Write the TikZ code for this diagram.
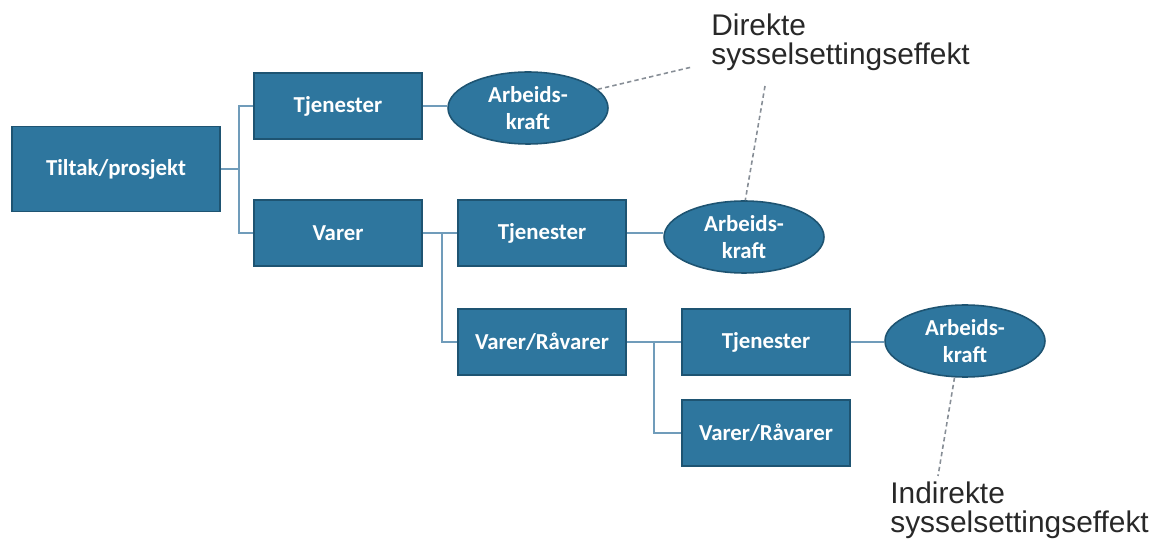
\documentclass[tikz,border=0pt]{standalone}
\usepackage{fontspec}
\setmainfont{Liberation Sans}
\newfontfamily\boxfont{Carlito}
\usetikzlibrary{shapes.geometric}
\definecolor{boxblue}{RGB}{46,118,158}
\definecolor{boxedge}{RGB}{30,84,114}
\definecolor{linkblue}{RGB}{112,156,186}
\definecolor{effgray}{RGB}{135,142,150}
\definecolor{labelgray}{RGB}{40,40,40}
\begin{document}
\begin{tikzpicture}[x=0.02cm,y=-0.02cm,
box/.style={draw=boxedge,line width=0.9pt,fill=boxblue,text=white,font=\boxfont\bfseries\fontsize{13}{14}\selectfont,minimum width=3.36cm,minimum height=1.32cm,inner sep=0pt},
ell/.style={ellipse,draw=boxedge,line width=0.9pt,fill=boxblue,text=white,font=\boxfont\bfseries\fontsize{13}{15}\selectfont,align=center,inner sep=0pt,minimum width=3.2cm,minimum height=1.44cm},
link/.style={draw=linkblue,line width=1.1pt},
effect/.style={draw=effgray,line width=0.9pt,dash pattern=on 2.5pt off 1.8pt},
effectlabel/.style={font=\fontsize{17}{16}\selectfont,text=labelgray,align=left,inner sep=0pt,anchor=north west}]
\useasboundingbox (0,0) rectangle (1150,540);
\node[box,minimum width=4.16cm,minimum height=1.7cm] (tiltak) at (116,169) {Tiltak/prosjekt};
\node[box] (tj1) at (338,106) {Tjenester};
\node[box] (varer1) at (338,233) {Varer};
\node[ell] (ark1) at (528,108) {Arbeids-\\kraft};
\node[box] (tj2) at (542,233) {Tjenester};
\node[ell] (ark2) at (744,237) {Arbeids-\\kraft};
\node[box] (rv1) at (542,342) {Varer/Råvarer};
\node[box] (tj3) at (766,342) {Tjenester};
\node[ell] (ark3) at (965,341) {Arbeids-\\kraft};
\node[box] (rv2) at (766,433) {Varer/Råvarer};
\node[effectlabel] (direkte) at (711,14) {Direkte\\sysselsettingseffekt};
\node[effectlabel] (indirekte) at (890,482) {Indirekte\\sysselsettingseffekt};
\coordinate (dirleft) at (692,67);
\coordinate (dirfoot) at (765,86);
\coordinate (indtop) at (938,476);
\draw[link] (tiltak.east) -- ++(18,0) coordinate (split1);
\draw[link] (tj1.west) -| (split1) |- (varer1.west);
\draw[link] (varer1.east) -- (tj2.west) (varer1.east) ++(19,0) |- (rv1.west);
\draw[link] (rv1.east) -- (tj3.west) (rv1.east) ++(27,0) |- (rv2.west);
\draw[link] (tj1.east) -- (tj1.east -| ark1.west);
\draw[link] (tj2.east) -- (tj2.east -| ark2.west);
\draw[link] (tj3.east) -- (tj3.east -| ark3.west);
\draw[effect] (ark1.15) -- (dirleft);
\draw[effect] (dirfoot) -- (ark2.88);
\draw[effect] (ark3.254) -- (indtop);
\end{tikzpicture}
\end{document}
